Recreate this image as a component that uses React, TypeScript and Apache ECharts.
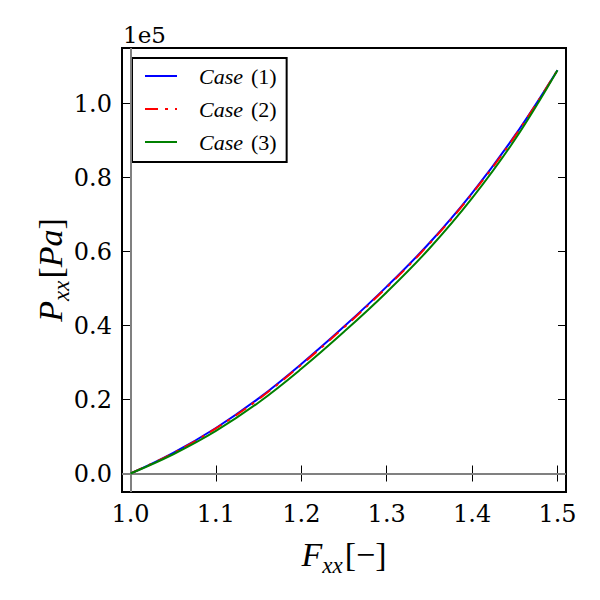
import React, { useEffect, useRef } from 'react';
import * as echarts from 'echarts';

const strain = [1.0, 1.05, 1.1, 1.15, 1.2, 1.25, 1.3, 1.35, 1.4, 1.45, 1.5];
const case1 = [0, 5600, 12300, 20300, 29600, 39700, 50500, 62300, 75800, 91300, 109000];
const case2 = [0, 5500, 12200, 20100, 29400, 39500, 50300, 62100, 75600, 91100, 109000];
const case3 = [0, 5200, 11500, 19200, 28300, 38300, 49000, 60800, 74400, 90200, 109000];
const xTicks = [1.0, 1.1, 1.2, 1.3, 1.4, 1.5];
const yTicks = [0, 20000, 40000, 60000, 80000, 100000];
const seriesNames = ['Case (1)', 'Case (2)', 'Case (3)'];

type Piece = { text: string; size: number; italic?: boolean; dy?: number; gap?: number };

const MATH_FONT = 'Liberation Serif';

function mathLabel(pieces: Piece[], x: number, y: number, rotation: number) {
  const canvas = document.createElement('canvas');
  const ctx = canvas.getContext('2d')!;
  const widths = pieces.map((p) => {
    ctx.font = `${p.italic ? 'italic ' : ''}${p.size}px "${MATH_FONT}"`;
    return ctx.measureText(p.text).width + (p.gap || 0);
  });
  const W = widths.reduce((a, b) => a + b, 0);
  let cx = -W / 2;
  const children = pieces.map((p, i) => {
    const el = {
      type: 'text',
      x: cx,
      y: -0.34 * p.size + (p.dy || 0),
      style: {
        text: p.text,
        fontSize: p.size,
        fontFamily: MATH_FONT,
        fontStyle: p.italic ? 'italic' : 'normal',
        fill: '#000',
        align: 'left',
        verticalAlign: 'middle',
      },
    };
    cx += widths[i];
    return el;
  });
  return { type: 'group', x, y, rotation, children };
}

export default function App() {
  const ref = useRef<HTMLDivElement>(null);
  useEffect(() => {
    const chart = echarts.init(ref.current!, null, { renderer: 'svg' });
    const tickFont = { fontFamily: 'DejaVu Serif', fontSize: 24, color: '#000' };
    const xData = (ys: number[]) => strain.map((s, i) => [s, ys[i]]);
    const xLabel = mathLabel(
      [
        { text: 'F', size: 34, italic: true },
        { text: 'xx', size: 23, italic: true, dy: 7, gap: 2 },
        { text: '[', size: 34 },
        { text: '\u2212', size: 34 },
        { text: ']', size: 34 },
      ],
      344,
      566,
      0
    );
    const yLabel = mathLabel(
      [
        { text: 'P', size: 34, italic: true },
        { text: 'xx', size: 23, italic: true, dy: 7, gap: 2 },
        { text: '[', size: 34 },
        { text: 'Pa', size: 34, italic: true },
        { text: ']', size: 34 },
      ],
      62,
      270,
      Math.PI / 2
    );
    const option: any = {
      animation: false,
      grid: {
        left: 122,
        top: 48,
        width: 444,
        height: 444,
        show: true,
        borderColor: '#000',
        borderWidth: 2,
        backgroundColor: '#fff',
      },
      xAxis: [
        {
          type: 'value',
          min: 0.99,
          max: 1.51,
          position: 'bottom',
          axisLine: { show: false },
          splitLine: { show: false },
          axisTick: { inside: true, length: 8, customValues: xTicks, lineStyle: { color: '#000', width: 1 } },
          axisLabel: { ...tickFont, margin: 10, customValues: xTicks, formatter: (v: number) => v.toFixed(1) },
        },
        {
          type: 'value',
          min: 0.99,
          max: 1.51,
          position: 'top',
          axisLine: { show: false },
          splitLine: { show: false },
          axisTick: { inside: true, length: 8, customValues: xTicks, lineStyle: { color: '#000', width: 1 } },
          axisLabel: { show: false },
        },
      ],
      yAxis: [
        {
          type: 'value',
          min: -5000,
          max: 115000,
          position: 'left',
          axisLine: { show: false },
          splitLine: { show: false },
          axisTick: { inside: true, length: 8, customValues: yTicks, lineStyle: { color: '#000', width: 1 } },
          axisLabel: { ...tickFont, margin: 10, customValues: yTicks, formatter: (v: number) => (v / 1e5).toFixed(1) },
        },
        {
          type: 'value',
          min: -5000,
          max: 115000,
          position: 'right',
          axisLine: { show: false },
          splitLine: { show: false },
          axisTick: { inside: true, length: 8, customValues: yTicks, lineStyle: { color: '#000', width: 1 } },
          axisLabel: { show: false },
        },
      ],
      legend: {
        orient: 'vertical',
        left: 132,
        top: 58,
        padding: [7, 10, 9, 12],
        itemGap: 11,
        itemWidth: 32,
        itemHeight: 14,
        borderColor: '#000',
        borderWidth: 2,
        backgroundColor: '#fff',
        itemStyle: { opacity: 0, borderWidth: 0 },
        data: seriesNames,
        formatter: (name: string) => `{i|Case}{s| }{n|${name.slice(5)}}`,
        textStyle: {
          fontFamily: MATH_FONT,
          fontSize: 22,
          color: '#000',
          padding: [0, 0, 0, 17],
          rich: {
            i: { fontFamily: MATH_FONT, fontStyle: 'italic', fontSize: 22, color: '#000' },
            s: { fontFamily: MATH_FONT, fontSize: 22, width: 8 },
            n: { fontFamily: MATH_FONT, fontStyle: 'normal', fontSize: 22, color: '#000' },
          },
        },
      },
      series: [
        {
          type: 'line',
          name: '__ref',
          data: [],
          silent: true,
          z: 1,
          markLine: {
            silent: true,
            symbol: 'none',
            label: { show: false },
            lineStyle: { color: '#808080', width: 2, type: 'solid' },
            data: [{ xAxis: 1.0 }, { yAxis: 0 }],
          },
        },
        {
          type: 'line',
          name: seriesNames[0],
          data: xData(case1),
          smooth: 0.4,
          symbol: 'none',
          z: 3,
          lineStyle: { color: '#0000ff', width: 2 },
          itemStyle: { color: '#0000ff' },
        },
        {
          type: 'line',
          name: seriesNames[1],
          data: xData(case2),
          smooth: 0.4,
          symbol: 'none',
          z: 4,
          lineStyle: { color: '#ff0000', width: 2, type: [13, 7, 3, 7] },
          itemStyle: { color: '#ff0000' },
        },
        {
          type: 'line',
          name: seriesNames[2],
          data: xData(case3),
          smooth: 0.4,
          symbol: 'none',
          z: 5,
          lineStyle: { color: '#008000', width: 2 },
          itemStyle: { color: '#008000' },
        },
      ],
      graphic: [
        {
          type: 'text',
          x: 123,
          y: 35,
          style: { text: '1e5', fontFamily: 'DejaVu Serif', fontSize: 23, fill: '#000', align: 'left', verticalAlign: 'middle' },
        },
        xLabel,
        yLabel,
      ],
    };
    chart.setOption(option);
    return () => chart.dispose();
  }, []);
  return <div ref={ref} style={{ width: 600, height: 600, position: 'absolute', left: 0, top: 0, background: '#fff' }} />;
}
